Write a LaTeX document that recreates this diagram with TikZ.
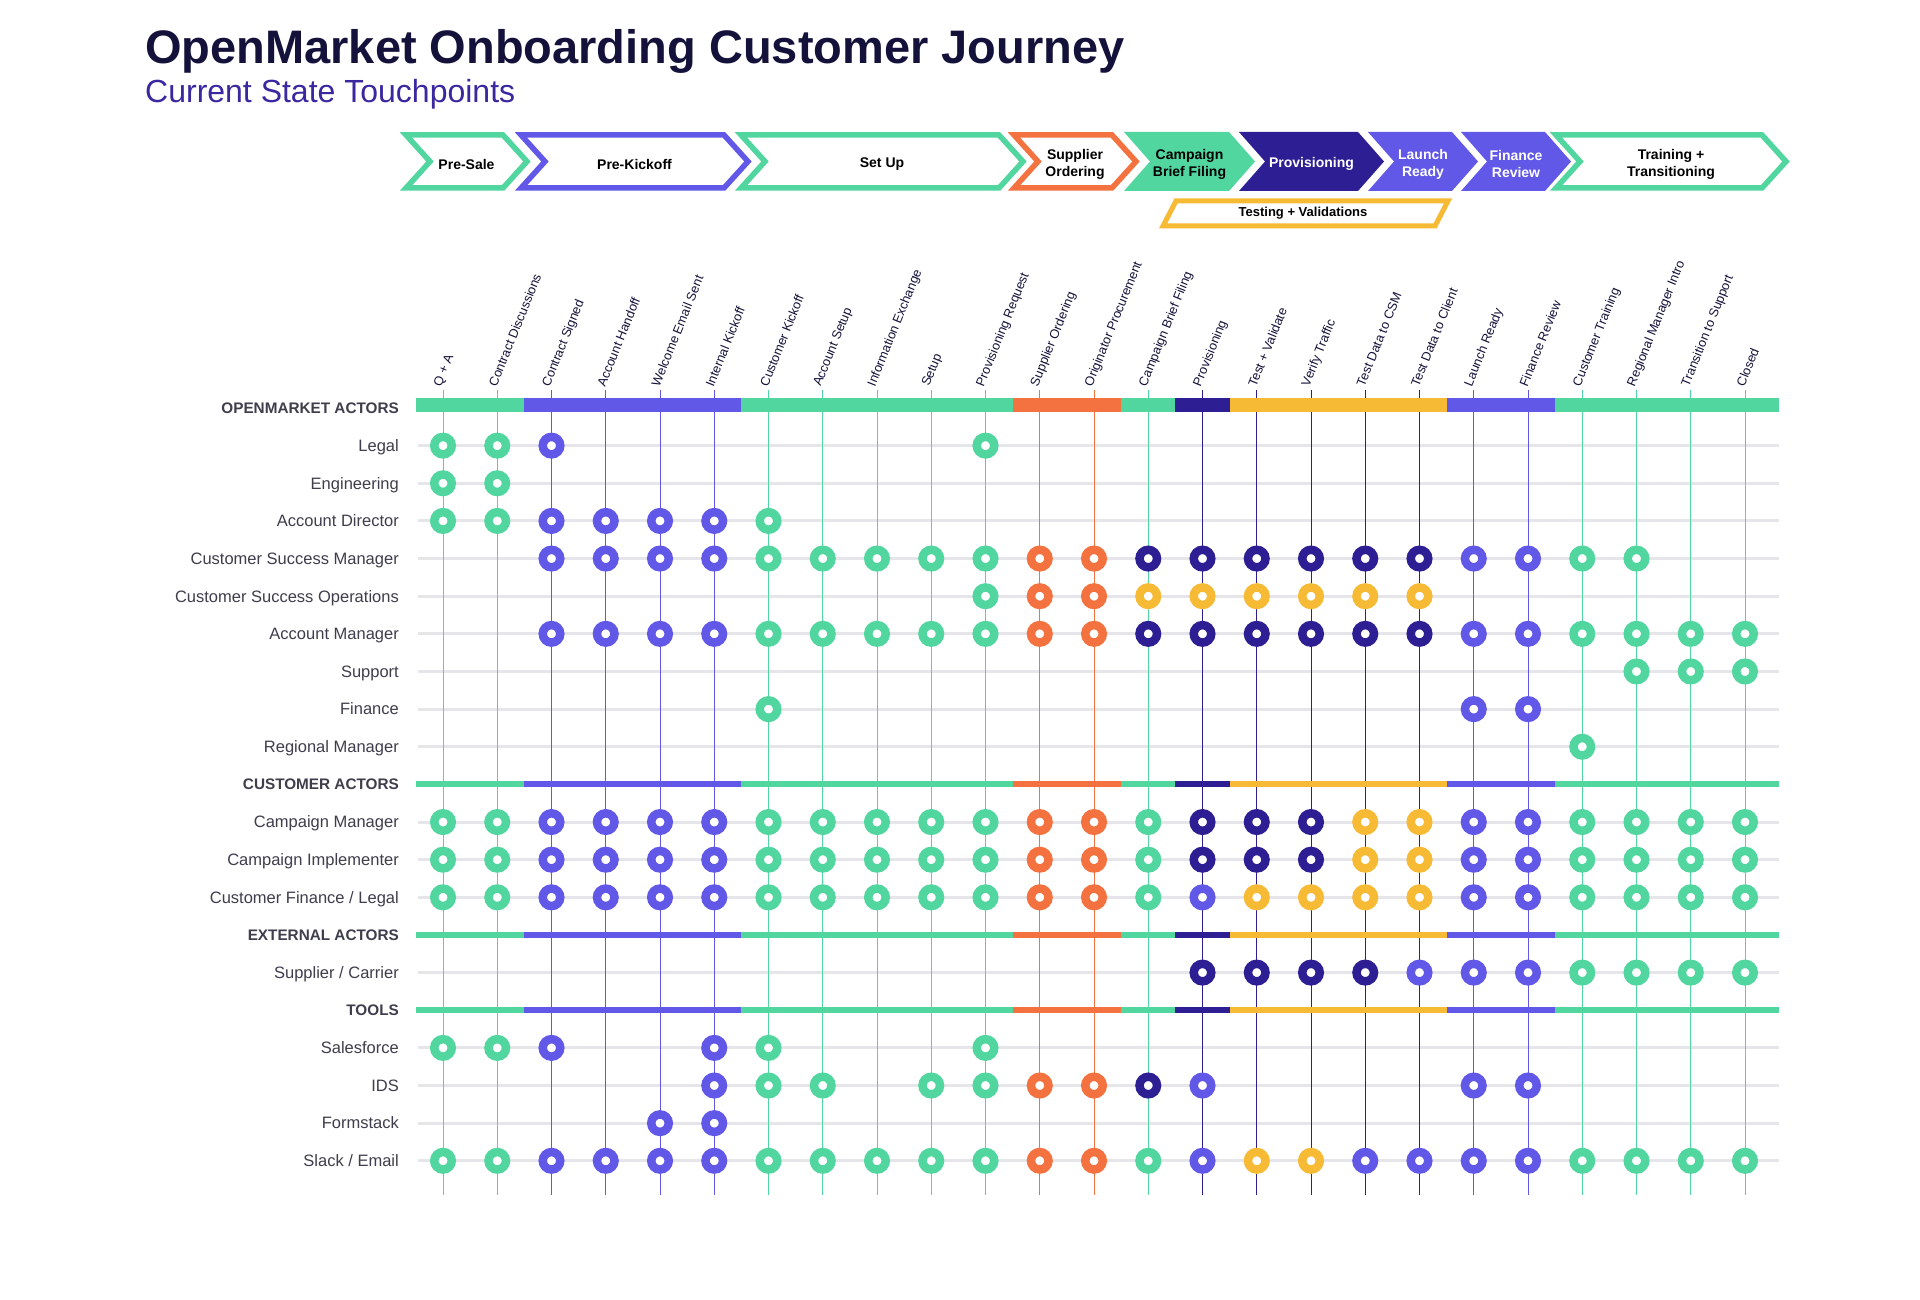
\documentclass[tikz,border=0pt]{standalone}
\usepackage{fontspec}
\setmainfont{Liberation Sans}
\usepackage{xcolor}
\usetikzlibrary{positioning,calc}

\definecolor{gr}{RGB}{82,214,160}
\definecolor{vi}{RGB}{98,88,232}
\definecolor{nv}{RGB}{46,30,148}
\definecolor{or}{RGB}{244,114,64}
\definecolor{ye}{RGB}{246,186,52}
\definecolor{ink}{RGB}{20,18,58}
\definecolor{subink}{RGB}{58,40,160}
\definecolor{lblgray}{RGB}{62,62,76}
\definecolor{rulegray}{RGB}{230,230,234}

\begin{document}
\begin{tikzpicture}[x=1pt, y=-1pt,
  chevline/.style={draw=#1, line width=5.5pt, fill=white, line join=miter},
  chevtext/.style={align=center, inner sep=0pt, font=\bfseries\fontsize{14}{17}\selectfont},
  rowlabel/.style={anchor=base east, inner sep=0pt, text=lblgray, font=\fontsize{16.5}{19}\selectfont},
  sectlabel/.style={anchor=base east, inner sep=0pt, text=lblgray, font=\bfseries\fontsize{15.3}{18}\selectfont},
  collabel/.style={anchor=west, rotate=68, inner sep=0pt, text=ink, font=\fontsize{12.8}{14}\selectfont},
  colline/.style={draw=#1, line width=0.75pt},
  rowrule/.style={draw=rulegray, line width=3pt},
  touch/.style={circle, draw=#1, fill=white, line width=8.5pt, minimum size=17.5pt, inner sep=0pt},
]
\fill[white] (0,0) rectangle (1920,1300);
\useasboundingbox (0,0) rectangle (1920,1300);

% Title
\node[anchor=base west, inner sep=0pt, text=ink, font=\bfseries\fontsize{47}{50}\selectfont] (title) at (145,64) {OpenMarket Onboarding Customer Journey};
\node[anchor=base west, inner sep=0pt, text=subink, font=\fontsize{32}{35}\selectfont] (subtitle) at (145,103) {Current State Touchpoints};

% Phases
\foreach \xa/\xb/\c/\txt/\nm in {403/530/gr/Pre-Sale/presale, 518/751/vi/Pre-Kickoff/prekick,
    738/1026/gr/Set Up/setup, 1011/1139/or/{Supplier\\Ordering}/supord,
    1553/1789/gr/{Training +\\Transitioning}/train} {
  \draw[chevline=\c] (\xa+3,135) -- (\xb-27,135) -- (\xb-3,161.5) -- (\xb-27,188) -- (\xa+3,188) -- (\xa+27,161.5) -- cycle;
  \node[chevtext] (\nm) at ({(\xa+\xb)/2},164) {\txt};
}
\foreach \xa/\xb/\c/\tc/\txt/\nm in {1124/1255/gr/black/{Campaign\\Brief Filing}/brief,
    1239/1384/nv/white/Provisioning/prov, 1368/1478/vi/white/{Launch\\Ready}/launch,
    1461/1571/vi/white/{Finance\\Review}/finrev} {
  \fill[fill=\c] (\xa,132) -- (\xb-26,132) -- (\xb,161.5) -- (\xb-26,191) -- (\xa,191) -- (\xa+26,161.5) -- cycle;
  \node[chevtext, text=\tc] (\nm) at ({(\xa+\xb)/2},164) {\txt};
}
\draw[draw=ye, line width=5pt, line join=miter] (1163,226) -- (1176,201) -- (1448,201) -- (1435,226) -- cycle;
\node[chevtext, font=\bfseries\fontsize{13}{15}\selectfont] (testing) at (1303,213.5) {Testing + Validations};

% Row labels and rules
\foreach \k/\name in {1/Legal, 2/Engineering, 3/Account Director, 4/Customer Success Manager,
    5/Customer Success Operations, 6/Account Manager, 7/Support, 8/Finance, 9/Regional Manager,
    11/Campaign Manager, 12/Campaign Implementer, 13/{Customer Finance / Legal},
    15/{Supplier / Carrier}, 17/Salesforce, 18/IDS, 19/Formstack, 20/{Slack / Email}} {
  \pgfmathsetmacro\ry{408+37.64*\k}
  \node[rowlabel] (r\k) at (399,\ry+5.8) {\name};
  \coordinate (rl\k) at (418,\ry);
  \coordinate (rr\k) at (1779,\ry);
  \draw[rowrule] (rl\k) -- (rr\k);
}
\foreach \k/\name in {0/OPENMARKET ACTORS, 10/CUSTOMER ACTORS, 14/EXTERNAL ACTORS, 16/TOOLS} {
  \pgfmathsetmacro\ry{408+37.64*\k}
  \node[sectlabel] (s\k) at (399,\ry+5.3) {\name};
}

% Steps
\foreach \lbl/\lc [count=\i from 0] in {Q + A/gr, Contract Discussions/gr, Contract Signed/vi,
    Account Handoff/vi, Welcome Email Sent/vi, Internal Kickoff/vi, Customer Kickoff/gr,
    Account Setup/gr, Information Exchange/gr, Setup/gr, Provisioning Request/gr,
    Supplier Ordering/or, Originator Procurement/or, Campaign Brief Filing/gr,
    Provisioning/nv, Test + Validate/nv, Verify Traffic/nv, Test Data to CSM/nv,
    Test Data to Client/nv, Launch Ready/vi, Finance Review/vi, Customer Training/gr,
    Regional Manager Intro/gr, Transition to Support/gr, Closed/gr} {
  \pgfmathsetmacro\cx{443+54.25*\i}
  \coordinate (top\i) at (\cx,390);
  \coordinate (bot\i) at (\cx,1195);
  \draw[colline=\lc] (top\i) -- (bot\i);
  \node[collabel] (col\i) at (\cx-5,386) {\lbl};
}

% Phase bars
\foreach \k/\h in {0/7, 10/3, 14/3, 16/3} {
  \pgfmathsetmacro\ry{408+37.64*\k-(\k==0)*3}
  \foreach \xa/\xb/\c in {416/524.4/gr, 524.4/741.4/vi, 741.4/1012.6/gr, 1012.6/1121/or,
      1121/1175/gr, 1175/1229.6/nv, 1229.6/1446.6/ye, 1446.6/1555/vi, 1555/1779/gr} {
    \fill[fill=\c] (\xa,\ry-\h) rectangle (\xb,\ry+\h);
  }
}

% Touchpoints
\foreach \k/\cells in {1/{0/1/gr,2/2/vi,10/10/gr}, 2/{0/1/gr}, 3/{0/1/gr,2/5/vi,6/6/gr},
    4/{2/5/vi,6/10/gr,11/12/or,13/18/nv,19/20/vi,21/22/gr},
    5/{10/10/gr,11/12/or,13/18/ye},
    6/{2/5/vi,6/10/gr,11/12/or,13/18/nv,19/20/vi,21/24/gr},
    7/{22/24/gr}, 8/{6/6/gr,19/20/vi}, 9/{21/21/gr},
    11/{0/1/gr,2/5/vi,6/10/gr,11/12/or,13/13/gr,14/16/nv,17/18/ye,19/20/vi,21/24/gr},
    12/{0/1/gr,2/5/vi,6/10/gr,11/12/or,13/13/gr,14/16/nv,17/18/ye,19/20/vi,21/24/gr},
    13/{0/1/gr,2/5/vi,6/10/gr,11/12/or,13/13/gr,14/14/vi,15/18/ye,19/20/vi,21/24/gr},
    15/{14/17/nv,18/20/vi,21/24/gr},
    17/{0/1/gr,2/2/vi,5/5/vi,6/6/gr,10/10/gr},
    18/{5/5/vi,6/7/gr,9/10/gr,11/12/or,13/13/nv,14/14/vi,19/20/vi},
    19/{4/5/vi},
    20/{0/1/gr,2/5/vi,6/10/gr,11/12/or,13/13/gr,14/14/vi,15/16/ye,17/20/vi,21/24/gr}} {
  \pgfmathsetmacro\ry{408+37.64*\k}
  \foreach \a/\b/\cc in \cells {
    \foreach \c in {\a,...,\b} {
      \node[touch=\cc] (t\k-\c) at (443+54.25*\c,\ry) {};
    }
  }
}
\end{tikzpicture}
\end{document}
